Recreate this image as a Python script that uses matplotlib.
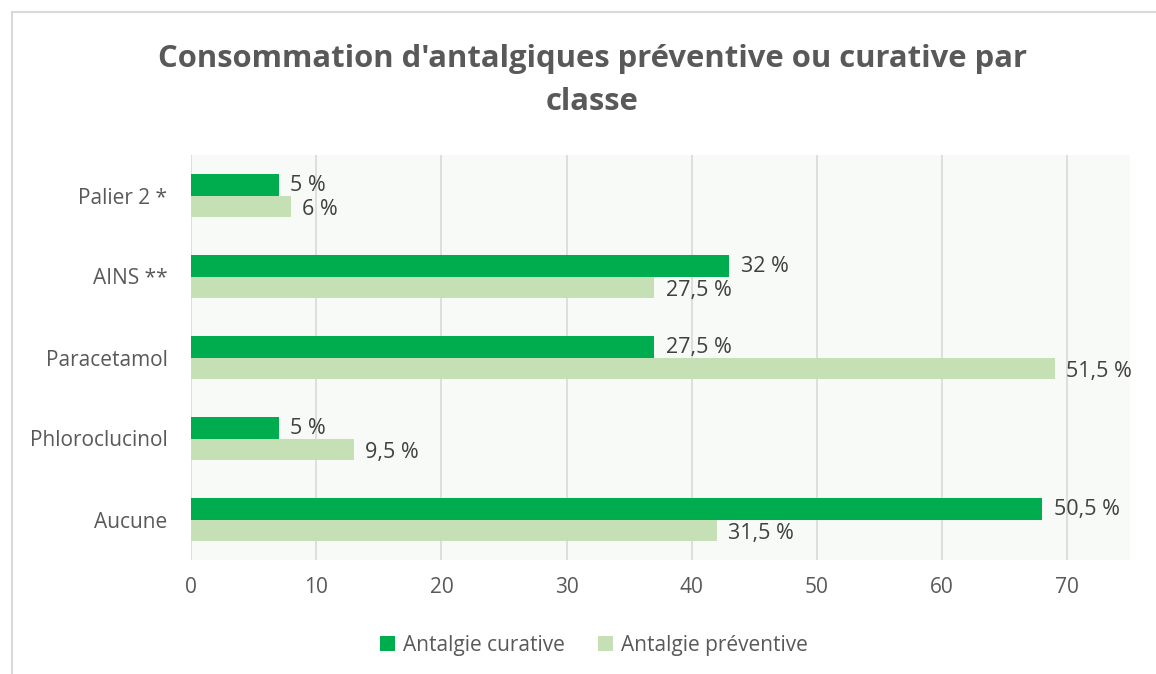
import matplotlib.pyplot as plt
from matplotlib.lines import Line2D
import numpy as np

plt.rcParams['font.family'] = ['Open Sans', 'DejaVu Sans']

# Data (categories from top to bottom)
categories = ['Palier 2 *', 'AINS **', 'Paracetamol', 'Phloroclucinol', 'Aucune']
curative = [7, 43, 37, 7, 68]
preventive = [8, 37, 69, 13, 42]
curative_labels = ['5 %', '32 %', '27,5 %', '5 %', '50,5 %']
preventive_labels = ['6 %', '27,5 %', '51,5 %', '9,5 %', '31,5 %']
xticks = [0, 10, 20, 30, 40, 50, 60, 70]

dark_green = '#00AD4E'
light_green = '#C5E0B4'
text_col = '#595959'

W, H = 1156, 674
fig = plt.figure(figsize=(W / 100, H / 100), dpi=100)
ax = fig.add_axes([191 / W, 1 - 560 / H, (1130 - 191) / W, (560 - 155) / H])
ax.set_facecolor('#F8FAF7')

y = np.arange(len(categories))
h = 0.26
ax.barh(y - h / 2, curative, height=h, color=dark_green, zorder=3, label='Antalgie curative')
ax.barh(y + h / 2, preventive, height=h, color=light_green, zorder=3, label='Antalgie préventive')

for i in range(len(categories)):
    ax.text(curative[i] + 0.9, y[i] - h / 2 + 0.01, curative_labels[i], va='center', ha='left',
            fontsize=15.5, color='#404040')
    ax.text(preventive[i] + 0.9, y[i] + h / 2 + 0.04, preventive_labels[i], va='center', ha='left',
            fontsize=15.5, color='#404040')

ax.set_ylim(len(categories) - 0.5, -0.5)
ax.set_xlim(0, 75)
ax.set_yticks(y)
ax.set_yticklabels(categories, fontsize=15, color=text_col)
ax.set_xticks(xticks)
ax.set_xticklabels([str(t) for t in xticks], fontsize=15, color=text_col)
ax.tick_params(length=0, pad=17, axis='y')
ax.tick_params(length=0, pad=12, axis='x')
ax.grid(axis='x', color='#D9D9D9', linewidth=1.2, zorder=0)
for s in ax.spines.values():
    s.set_visible(False)

cx = 592 / W
fig.text(cx, 1 - 59 / H, "Consommation d'antalgiques préventive ou curative par",
         ha='center', va='center', fontsize=22.3, fontweight='bold', color=text_col)
fig.text(cx, 1 - 102 / H, "classe", ha='center', va='center',
         fontsize=22.3, fontweight='bold', color=text_col)

fig.legend(loc='center', bbox_to_anchor=(594 / W, 1 - 645 / H), ncol=2, frameon=False,
           fontsize=15, handlelength=0.7, handleheight=0.7, columnspacing=1.6,
           labelcolor=text_col, handletextpad=0.4)

# outer border: only left and top edges are visible in the crop
fig.lines.append(Line2D([12.5 / W, 12.5 / W], [0, 1 - 11.5 / H], transform=fig.transFigure,
                        color='#D9D9D9', linewidth=1.5))
fig.lines.append(Line2D([12.5 / W, 1], [1 - 11.5 / H, 1 - 11.5 / H], transform=fig.transFigure,
                        color='#D9D9D9', linewidth=1.5))

fig.savefig('out.png', dpi=100, facecolor='white')
